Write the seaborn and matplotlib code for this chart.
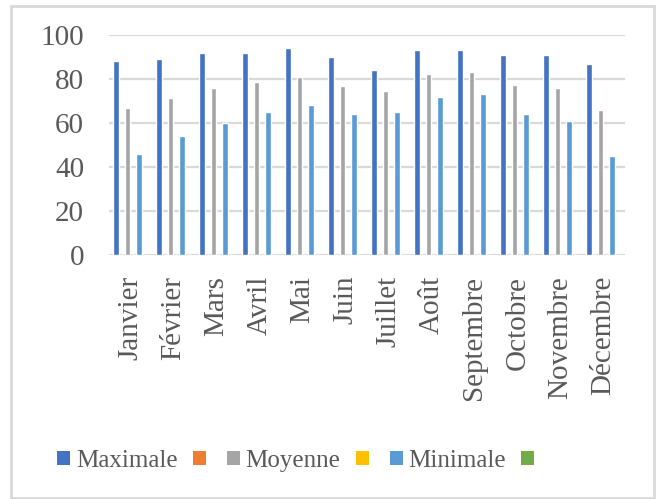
import matplotlib
matplotlib.use("Agg")
import matplotlib.pyplot as plt
from matplotlib.patches import Patch, Rectangle
import numpy as np
import pandas as pd
import seaborn as sns

# Monthly values (%)
mois = ["Janvier", "Février", "Mars", "Avril", "Mai", "Juin", "Juillet",
        "Août", "Septembre", "Octobre", "Novembre", "Décembre"]
maximale = [88, 89, 92, 92, 94, 90, 84, 93, 93, 91, 91, 87]
moyenne = [67, 71.5, 76, 78.5, 81, 77, 74.5, 82.5, 83, 77.5, 76, 66]
minimale = [46, 54, 60, 65, 68, 64, 65, 72, 73, 64, 61, 45]
serie2 = [0] * 12
serie4 = [0] * 12
serie6 = [0] * 12

series = ["Maximale", "Série2", "Moyenne", "Série4", "Minimale", "Série6"]
legend_labels = ["Maximale", "", "Moyenne", "", "Minimale", ""]
colors = ["#4472C4", "#ED7D31", "#A5A5A5", "#FFC000", "#5B9BD5", "#70AD47"]
y_ticks = [0, 20, 40, 60, 80, 100]

df = pd.DataFrame({
    "Mois": mois * 6,
    "Série": np.repeat(series, len(mois)),
    "Valeur": maximale + serie2 + moyenne + serie4 + minimale + serie6,
})

sns.set_theme(style="white")
plt.rcParams["font.family"] = ["Liberation Serif", "DejaVu Serif"]
text_color = "#595959"
grid_color = "#D9D9D9"

fig = plt.figure(figsize=(6.61, 4.99), dpi=100)
ax = fig.add_axes([109 / 661, 1 - 255 / 499, (625 - 109) / 661, (255 - 35) / 499])

sns.barplot(data=df, x="Mois", y="Valeur", hue="Série", hue_order=series,
            order=mois, palette=colors, width=0.8, gap=0.03,
            saturation=1, errorbar=None, legend=False, ax=ax)

ax.set_ylim(0, 100)
ax.set_xlim(-0.5, len(mois) - 0.5)
ax.set_yticks(y_ticks)
ax.set_yticklabels([str(t) for t in y_ticks])
ax.set_xlabel("")
ax.set_ylabel("")
for s in ax.spines.values():
    s.set_visible(False)
for t in y_ticks:
    ax.axhline(t, color=grid_color, lw=1.6, zorder=0)

ax.tick_params(axis="y", length=0, pad=18, labelsize=21, labelcolor=text_color)
ax.tick_params(axis="x", length=0, pad=15, labelsize=21, labelcolor=text_color,
               labelrotation=90)
for lbl in ax.get_xticklabels():
    lbl.set_verticalalignment("top")
    lbl.set_horizontalalignment("center")

handles = [Patch(facecolor=c, edgecolor="none") for c in colors]
leg = fig.legend(handles, legend_labels, loc="center left",
                 bbox_to_anchor=(57 / 661, 1 - 461 / 499), ncol=6,
                 frameon=False, fontsize=18, handlelength=0.52,
                 handleheight=0.52, handletextpad=0.24, columnspacing=0.6,
                 borderpad=0, borderaxespad=0,
                 prop={"family": ["Liberation Serif"], "size": 18})
for t in leg.get_texts():
    t.set_color(text_color)

fig.patches.append(Rectangle((10.5 / 661, 1.5 / 499), (654 - 10.5) / 661,
                             (497 - 5) / 499, transform=fig.transFigure,
                             fill=False, edgecolor="#D9D9D9", lw=2))

fig.savefig("out.png", dpi=100, facecolor="white")
